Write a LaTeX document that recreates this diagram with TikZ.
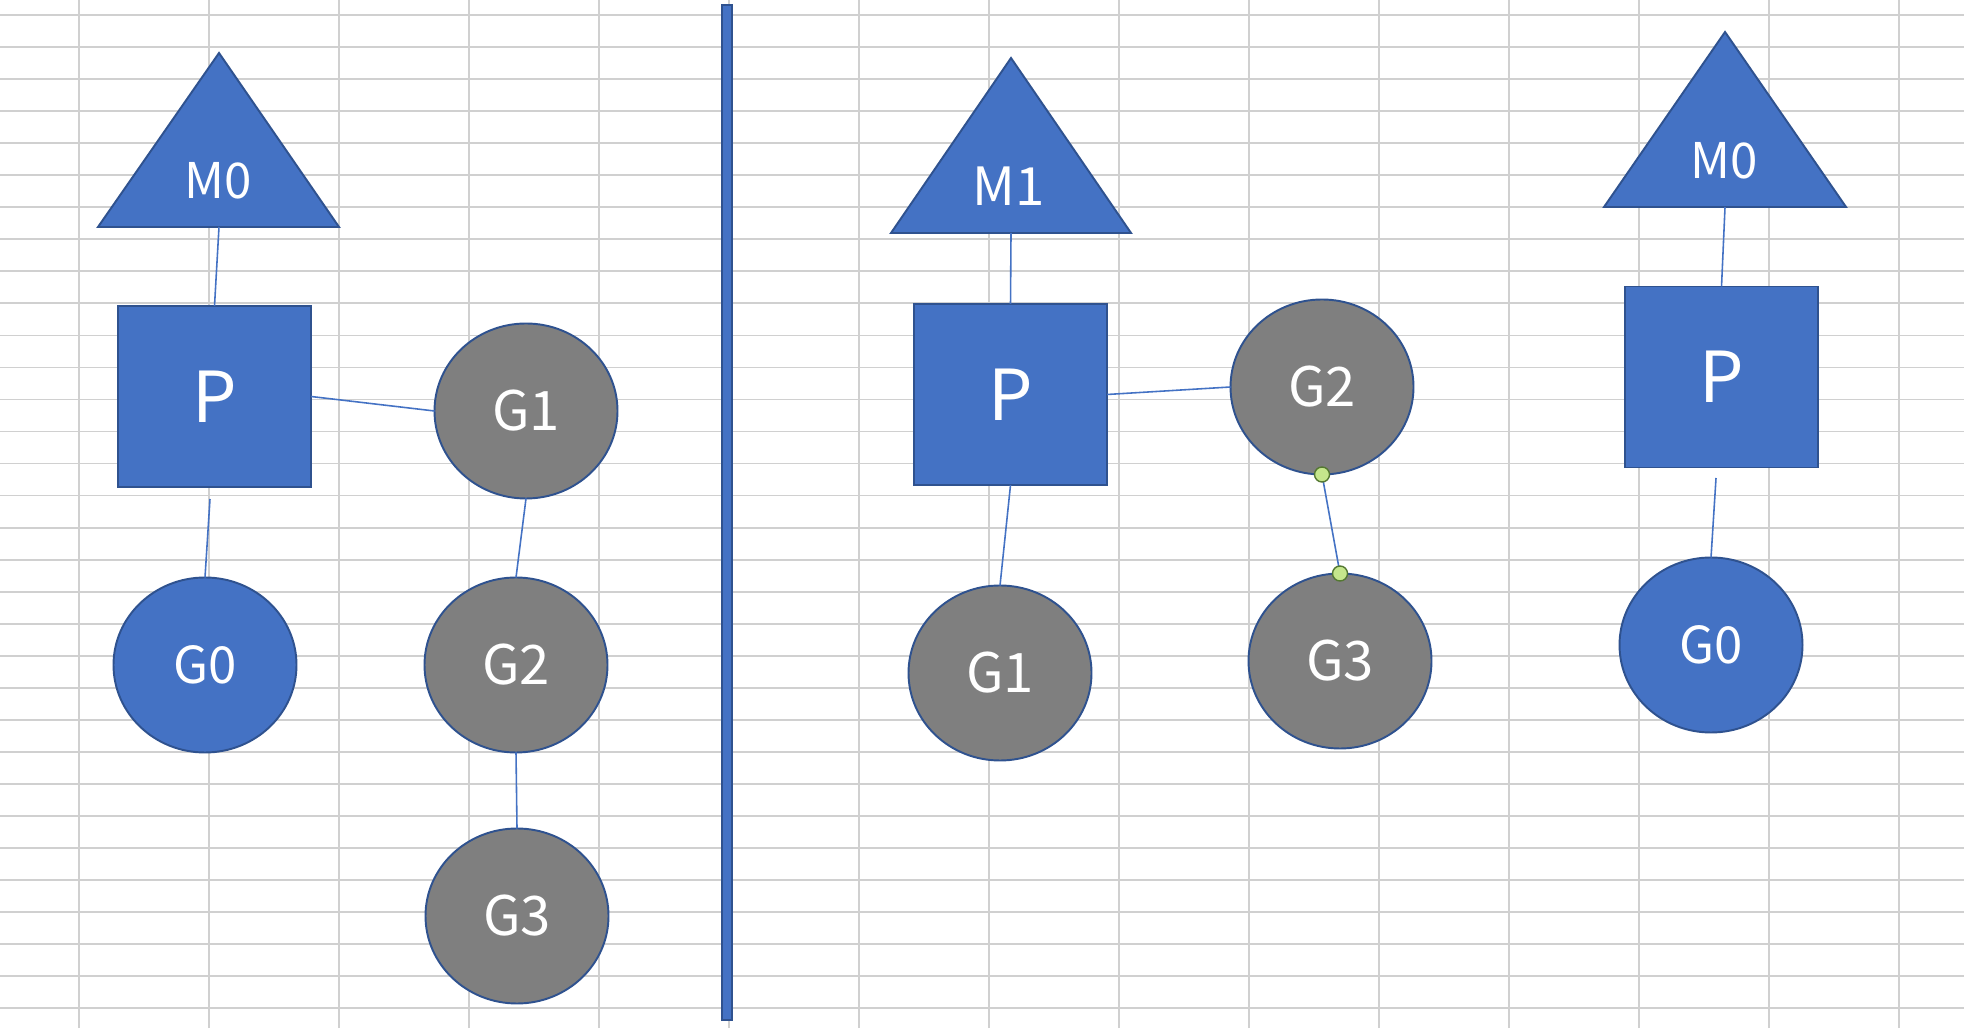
\documentclass[tikz,border=0pt]{standalone}
\usepackage{fontspec}
\usetikzlibrary{shapes.geometric}
\newfontfamily\labelfont{Noto Sans CJK SC}

\begin{document}
\begin{tikzpicture}[
    gridline/.style={draw=gridgray, line width=0.5pt},
    link/.style={draw=mainblue, line width=0.45pt},
    mshape/.style={draw=edgeblue, fill=mainblue, line width=0.55pt, line join=miter},
    mlabel/.style={text=white, inner sep=0pt, font=\labelfont\fontsize{14}{16}\selectfont},
    pbox/.style={rectangle, draw=edgeblue, fill=mainblue, line width=0.55pt, minimum width=1.93cm, minimum height=1.81cm, inner sep=0pt, outer sep=0pt, text=white, font=\labelfont\fontsize{20}{24}\selectfont},
    gnode/.style={ellipse, draw=edgeblue, line width=0.55pt, minimum width=1.83cm, minimum height=1.75cm, inner sep=0pt, outer sep=0pt, text=white, font=\labelfont\fontsize{15.5}{18}\selectfont},
    grun/.style={gnode, fill=mainblue, font=\labelfont\fontsize{14.5}{17}\selectfont},
    gwait/.style={gnode, fill=waitgray},
    handle/.style={circle, draw=handleedge, fill=handlegreen, line width=0.4pt, minimum size=0.15cm, inner sep=0pt}
]
    \definecolor{mainblue}{RGB}{68,114,196}
    \definecolor{edgeblue}{RGB}{47,82,143}
    \definecolor{waitgray}{RGB}{127,127,127}
    \definecolor{gridgray}{RGB}{208,208,208}
    \definecolor{handlegreen}{RGB}{197,230,140}
    \definecolor{handleedge}{RGB}{84,120,50}
    \useasboundingbox (0,0) rectangle (19.64,10.28);
    \fill[white] (0,0) rectangle (19.64,10.28);
    % Sheet grid
    \foreach \x in {0,...,14}
        \draw[gridline] (0.79+1.30*\x,0) -- (0.79+1.30*\x,10.28);
    \foreach \y in {0,...,31}
        \draw[gridline] (0,10.13-0.3204*\y) -- (19.64,10.13-0.3204*\y);
    % First diagram
    \draw[mshape] (0.98,8.01) -- (2.19,9.75) -- (3.39,8.01) -- cycle;
    \coordinate (m0abase) at (2.19,8.01);
    \node[mlabel] (m0a) at (2.18,8.47) {M0};
    \node[pbox] (pa) at (2.145,6.315) {P};
    \node[gwait] (g1a) at (5.26,6.17) {G1};
    \node[grun] (g0a) at (2.05,3.63) {G0};
    \node[gwait] (g2a) at (5.16,3.63) {G2};
    \node[gwait] (g3a) at (5.17,1.12) {G3};
    \coordinate (pagap) at (2.10,5.29);
    \draw[link] (m0abase) -- (pa.north);
    \draw[link] (pa.east) -- (g1a.west);
    \draw[link] (pagap) -- (g0a.north);
    \draw[link] (g1a.south) -- (g2a.north);
    \draw[link] (g2a.south) -- (g3a.north);
    % Divider
    \draw[mshape] (7.22,0.08) rectangle (7.32,10.23);
    % Second diagram
    \draw[mshape] (8.91,7.95) -- (10.11,9.70) -- (11.31,7.95) -- cycle;
    \coordinate (m1bbase) at (10.11,7.95);
    \node[mlabel, font=\labelfont\fontsize{15}{17}\selectfont] (m1b) at (10.09,8.42) {M1};
    \node[pbox] (pb) at (10.105,6.335) {P};
    \node[gwait] (g2b) at (13.22,6.41) {G2};
    \node[gwait] (g3b) at (13.40,3.67) {G3};
    \node[gwait] (g1b) at (10.00,3.55) {G1};
    \draw[link] (m1bbase) -- (pb.north);
    \draw[link] (pb.east) -- (g2b.west);
    \draw[link] (pb.south) -- (g1b.north);
    \draw[link] (g2b.south) -- (g3b.north);
    \node[handle] (h1) at (g2b.south) {};
    \node[handle] (h2) at (g3b.north) {};
    % Third diagram
    \draw[mshape] (16.04,8.21) -- (17.25,9.96) -- (18.46,8.21) -- cycle;
    \coordinate (m0cbase) at (17.25,8.21);
    \node[mlabel] (m0c) at (17.24,8.67) {M0};
    \node[pbox] (pc) at (17.215,6.51) {P};
    \node[grun] (g0c) at (17.11,3.83) {G0};
    \coordinate (pcgap) at (17.16,5.50);
    \draw[link] (m0cbase) -- (pc.north);
    \draw[link] (pcgap) -- (g0c.north);
\end{tikzpicture}
\end{document}
